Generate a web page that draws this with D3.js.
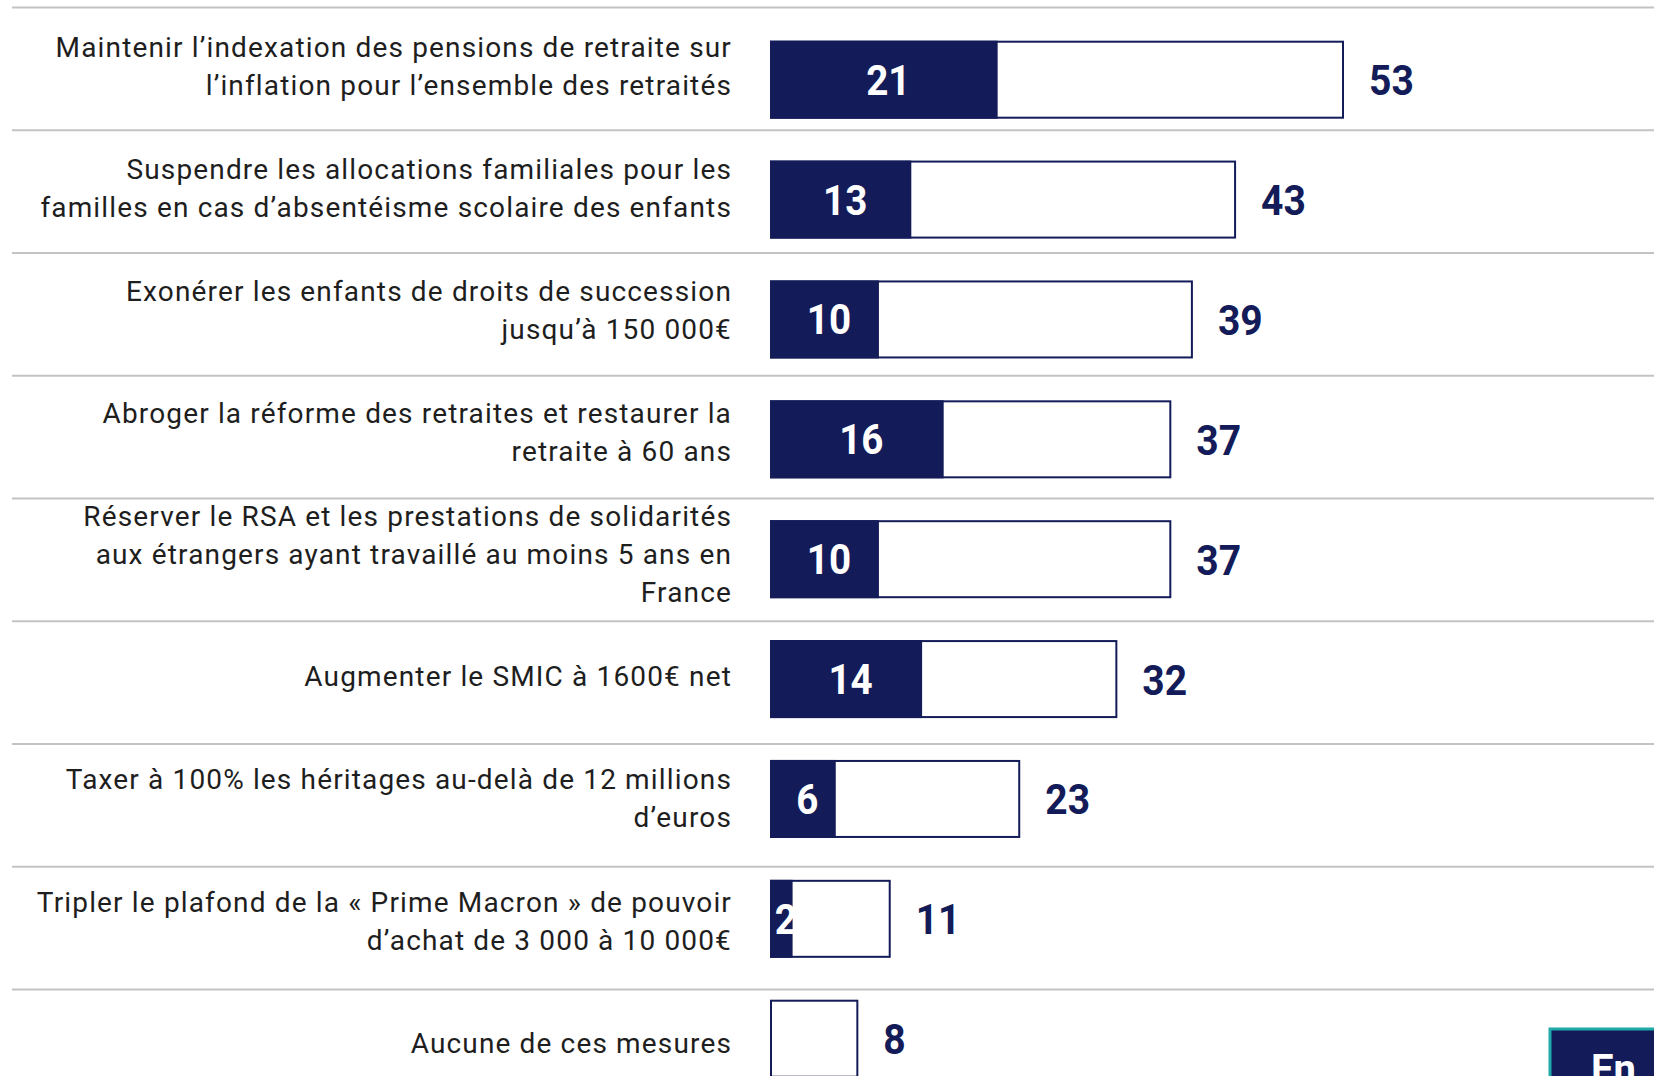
<!DOCTYPE html>
<html lang="fr">
<head>
<meta charset="utf-8">
<script src="https://cdn.jsdelivr.net/npm/d3@7"></script>
<style>
  html, body { margin: 0; padding: 0; background: #ffffff; overflow: hidden; }
  svg { display: block; }
</style>
</head>
<body>
<svg id="chart" width="1654" height="1076"></svg>
<script>
// Mesures proposées (libellés, retours à la ligne explicites)
const measures = [
  "Maintenir l’indexation des pensions de retraite sur\nl’inflation pour l’ensemble des retraités",
  "Suspendre les allocations familiales pour les\nfamilles en cas d’absentéisme scolaire des enfants",
  "Exonérer les enfants de droits de succession\njusqu’à 150 000€",
  "Abroger la réforme des retraites et restaurer la\nretraite à 60 ans",
  "Réserver le RSA et les prestations de solidarités\naux étrangers ayant travaillé au moins 5 ans en\nFrance",
  "Augmenter le SMIC à 1600€ net",
  "Taxer à 100% les héritages au-delà de 12 millions\nd’euros",
  "Tripler le plafond de la « Prime Macron » de pouvoir\nd’achat de 3 000 à 10 000€",
  "Aucune de ces mesures"
];

// En premier (%)
const firstChoice = [21, 13, 10, 16, 10, 14, 6, 2, 0];
// Total des citations (%)
const totalCited = [53, 43, 39, 37, 37, 32, 23, 11, 8];

const buttonText = "En";

const NAVY = "#131b58";
const INK = "#1e1e1e";
const RULE = "#c3c3c3";

const svg = d3.select("#chart");
const W = 1654;

const rows = d3.range(measures.length);

// Scales
const x = d3.scaleLinear().domain([0, 53]).range([771, 1343]);
const yBar = d3.scalePoint().domain(rows).range([79.7, 1038.7]);
const yLabel = d3.scalePoint().domain(rows).range([65.5, 1042.8]);
const yRule = d3.scaleLinear().domain([0, measures.length]).range([7.5, 7.5 + 122.75 * measures.length]);

const barH = 76;

// Horizontal separators
svg.append("g")
  .selectAll("line")
  .data(d3.range(measures.length))
  .join("line")
  .attr("x1", 12)
  .attr("x2", W)
  .attr("y1", d => yRule(d))
  .attr("y2", d => yRule(d))
  .attr("stroke", RULE)
  .attr("stroke-width", 2);

// Labels on the left
const labels = svg.append("g")
  .attr("font-family", "Roboto, 'Noto Sans', sans-serif")
  .attr("font-size", 28)
  .attr("letter-spacing", 1.15)
  .attr("fill", INK)
  .attr("text-anchor", "end");

measures.forEach((m, i) => {
  const lines = m.split("\n");
  const n = lines.length;
  const t = labels.append("text");
  lines.forEach((ln, k) => {
    t.append("tspan")
      .attr("x", 732)
      .attr("y", yLabel(i) + 10 + (k - (n - 1) / 2) * 38)
      .text(ln);
  });
});

const bars = svg.append("g");

// Total bars (white with navy outline)
bars.selectAll("rect.total")
  .data(rows)
  .join("rect")
  .attr("class", "total")
  .attr("x", x(0))
  .attr("y", i => yBar(i) - barH / 2)
  .attr("width", i => x(totalCited[i]) - x(0))
  .attr("height", barH)
  .attr("fill", "#ffffff")
  .attr("stroke", NAVY)
  .attr("stroke-width", 2);

// First-choice bars (solid navy)
bars.selectAll("rect.first")
  .data(rows.filter(i => firstChoice[i] > 0))
  .join("rect")
  .attr("class", "first")
  .attr("x", x(0) - 1)
  .attr("y", i => yBar(i) - barH / 2 - 1)
  .attr("width", i => x(firstChoice[i]) - x(0) + 1)
  .attr("height", barH + 2)
  .attr("fill", NAVY);

const numFont = "Roboto, 'Noto Sans', sans-serif";

// Values inside the navy part
bars.selectAll("text.first")
  .data(rows.filter(i => firstChoice[i] > 0))
  .join("text")
  .attr("class", "first")
  .attr("transform", i => `translate(${(x(0) + x(firstChoice[i])) / 2 + 4},${yBar(i) + 15}) scale(0.92,1)`)
  .attr("text-anchor", "middle")
  .attr("font-family", numFont)
  .attr("font-weight", 700)
  .attr("font-size", 42)
  .attr("fill", "#ffffff")
  .text(i => firstChoice[i]);

// Totals to the right of each bar
bars.selectAll("text.total")
  .data(rows)
  .join("text")
  .attr("class", "total")
  .attr("transform", i => `translate(${x(totalCited[i]) + 26},${yBar(i) + 15.5}) scale(0.93,1)`)
  .attr("text-anchor", "start")
  .attr("font-family", numFont)
  .attr("font-weight", 700)
  .attr("font-size", 42)
  .attr("fill", NAVY)
  .text(i => totalCited[i]);

// Button in the bottom-right corner
const btn = svg.append("g");
btn.append("rect")
  .attr("x", 1550)
  .attr("y", 1029)
  .attr("width", 200)
  .attr("height", 100)
  .attr("fill", NAVY)
  .attr("stroke", "#1fa9a9")
  .attr("stroke-width", 3);
btn.append("text")
  .attr("x", 1591)
  .attr("y", 1083)
  .attr("font-family", numFont)
  .attr("font-weight", 700)
  .attr("font-size", 40)
  .attr("fill", "#ffffff")
  .text(buttonText);
</script>
</body>
</html>
